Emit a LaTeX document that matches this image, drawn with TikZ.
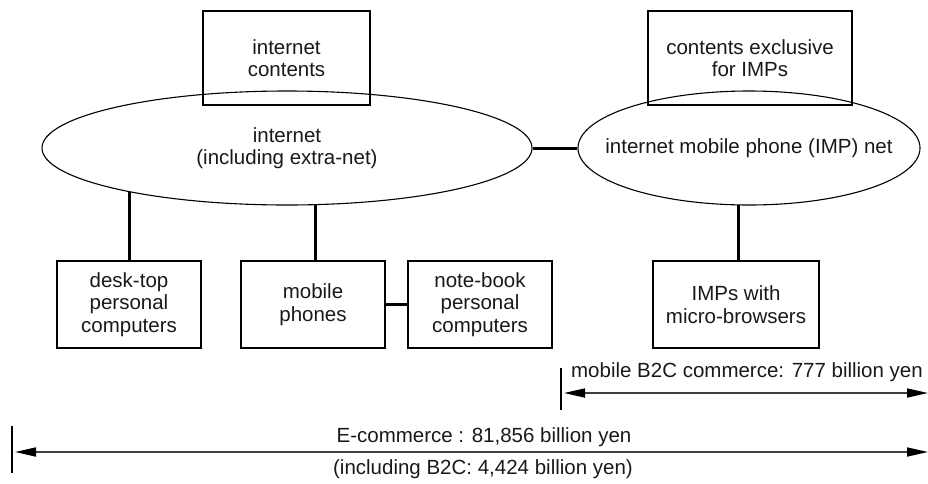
\documentclass[tikz,border=0pt]{standalone}
\usepackage{fontspec}
\setmainfont{Liberation Sans}
\usetikzlibrary{arrows.meta,shapes.geometric}
\pgfdeclarelayer{bg}
\pgfsetlayers{bg,main}
\begin{document}
\begin{tikzpicture}[x=1pt,y=-1pt,
  every node/.style={font=\fontsize{20.5}{22.5}\selectfont, align=center, inner sep=0pt, text=black!90},
  box/.style={draw, line width=1.3pt, rectangle, minimum height=87pt},
  net/.style={draw, ellipse, line width=1.1pt, fill=white, inner xsep=-40pt},
  link/.style={line width=3pt},
  dimarrow/.style={line width=1.7pt, draw=black!75,
    {Triangle[length=21pt,width=9pt,color=black]}-{Triangle[length=21pt,width=9pt,color=black]}},
  tickline/.style={line width=1.2pt}]
\useasboundingbox (0,0) rectangle (928,483);

% networks
\node[net, minimum width=490pt, minimum height=114pt] (inet) at (287,148) {internet\\(including extra-net)};
\node[net, minimum width=342pt, minimum height=114pt] (imp) at (749,148) {internet mobile phone (IMP) net};

% contents boxes
\node[box, minimum width=167pt, minimum height=94pt] (ic) at (286.5,58) {internet\\contents};
\node[box, minimum width=204pt, minimum height=94pt] (ce) at (750,58) {contents exclusive\\for IMPs};

% terminal boxes
\node[box, minimum width=144pt] (desk) at (129,304.5) {desk-top\\personal\\computers};
\node[box, minimum width=144pt] (mob) at (313,304.5) {mobile\\phones};
\node[box, minimum width=144pt] (note) at (480,304.5) {note-book\\personal\\computers};
\node[box, minimum width=166pt] (imps) at (736,304.5) {IMPs with\\micro-browsers};

% connectors
\begin{pgfonlayer}{bg}
\draw[link] (desk.north) -- (desk.north |- inet.center);
\draw[link] ([xshift=2pt]mob.north) -- ([xshift=2pt]mob.north |- inet.center);
\draw[link] ([xshift=2pt]imps.north) -- ([xshift=2pt]imps.north |- imp.center);
\end{pgfonlayer}
\draw[link] (inet.east) -- (imp.west);
\draw[link] (mob.east) -- (note.west);

% mobile B2C dimension
\coordinate (m1) at (561,368);
\coordinate (m2) at (561,410);
\coordinate (mR) at (928,393);
\draw[tickline] (m1) -- (m2);
\draw[dimarrow] ([xshift=3pt]m1 |- mR) -- (mR);
\node (mtxt) at (747,372) {mobile B2C commerce: 777 billion yen};

% E-commerce dimension
\coordinate (e1) at (12,426);
\coordinate (e2) at (12,473);
\coordinate (eR) at (928,452);
\draw[tickline] (e1) -- (e2);
\draw[dimarrow] ([xshift=3pt]e1 |- eR) -- (eR);
\node (etxt) at (484,437) {E-commerce : 81,856 billion yen};
\node (btxt) at (483,469) {(including B2C: 4,424 billion yen)};
\end{tikzpicture}
\end{document}
